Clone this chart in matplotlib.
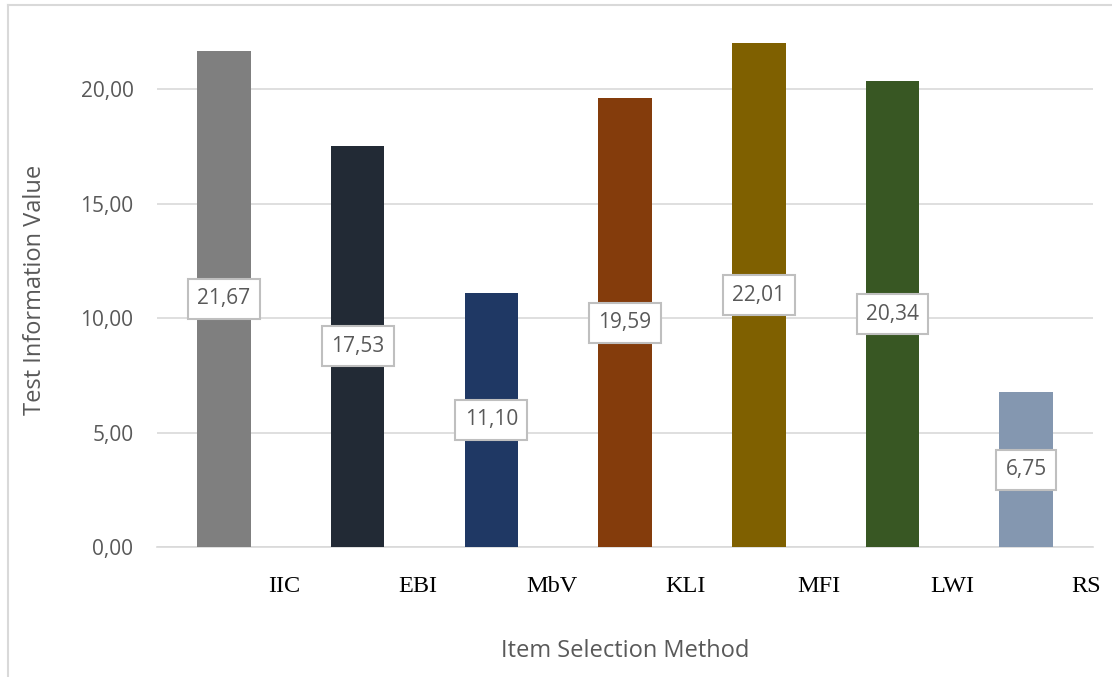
import matplotlib
matplotlib.use("Agg")
import matplotlib.pyplot as plt
from matplotlib.lines import Line2D

methods = ["IIC", "EBI", "MbV", "KLI", "MFI", "LWI", "RS"]
info_values = [21.67, 17.53, 11.10, 19.59, 22.01, 20.34, 6.75]
bar_colors = ["#7F7F7F", "#222A35", "#1F3864", "#843C0C", "#7F6000", "#385723", "#8497B0"]
y_ticks = [0, 5, 10, 15, 20]

plt.rcParams["font.family"] = ["Open Sans", "DejaVu Sans"]
text_grey = "#595959"

fig = plt.figure(figsize=(11.12, 6.77), dpi=100)
ax = fig.add_axes([0.1412, 0.192, 0.8418, 0.761])

x = list(range(len(methods)))
ax.bar(x, info_values, width=0.4, color=bar_colors, zorder=3)
ax.set_xlim(-0.5, len(methods) - 0.5)
ax.set_ylim(0, 22.5)

# value labels sit in the middle of each bar
for xi, v in zip(x, info_values):
    ax.text(xi, v / 2, f"{v:.2f}".replace(".", ","), ha="center", va="center",
            fontsize=15, color=text_grey, zorder=4,
            bbox=dict(boxstyle="square,pad=0.45", fc="white", ec="#BFBFBF", lw=1.5))

ax.set_yticks(y_ticks)
ax.set_yticklabels([f"{t:.2f}".replace(".", ",") for t in y_ticks], fontsize=15, color=text_grey)
ax.tick_params(axis="y", length=0, pad=17)
ax.yaxis.grid(True, color="#D9D9D9", lw=1.2, zorder=0)

# category names drawn at the slot edges in a serif face
ax.set_xticks([xi + 0.45 for xi in x])
ax.set_xticklabels(methods, fontsize=17.5, family="Liberation Serif", color="black")
ax.tick_params(axis="x", length=0, pad=21)

for s in ["top", "right", "left"]:
    ax.spines[s].set_visible(False)
ax.spines["bottom"].set_color("#D9D9D9")
ax.spines["bottom"].set_linewidth(1.2)

ax.set_ylabel("Test Information Value", fontsize=17, color=text_grey, labelpad=24)
ax.set_xlabel("Item Selection Method", fontsize=17, color=text_grey, labelpad=30)

# chart frame
fig.add_artist(Line2D([8 / 1112, 8 / 1112], [0, 1 - 5 / 677], color="#D9D9D9", lw=1.5))
fig.add_artist(Line2D([8 / 1112, 1], [1 - 5 / 677, 1 - 5 / 677], color="#D9D9D9", lw=1.5))

fig.savefig("out.png", dpi=100)
